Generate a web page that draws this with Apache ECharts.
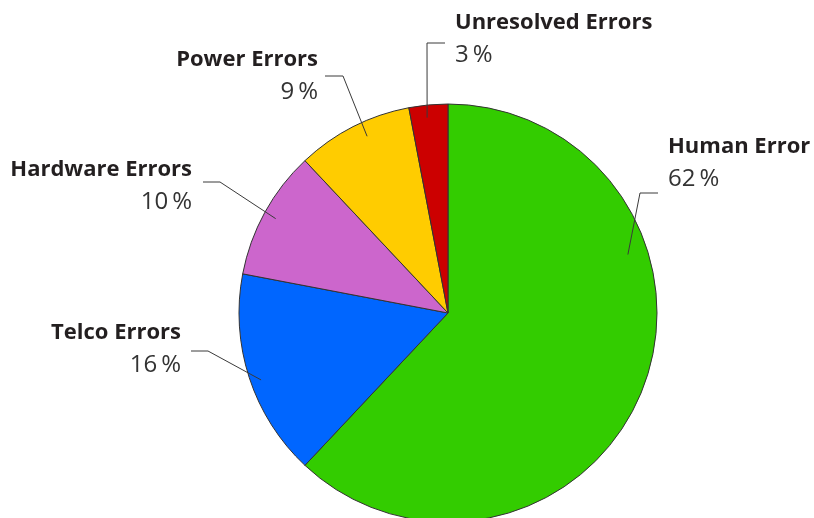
<!DOCTYPE html>
<html>
<head>
<meta charset="utf-8">
<script src="https://cdn.jsdelivr.net/npm/echarts@6/dist/echarts.min.js"></script>
<style>
  html, body { margin: 0; padding: 0; background: #ffffff; }
  #chart { width: 814px; height: 518px; }
</style>
</head>
<body>
<div id="chart"></div>
<script>
// ---- data ----
const categories = ['Human Error', 'Telco Errors', 'Hardware Errors', 'Power Errors', 'Unresolved Errors'];
const values = [62, 16, 10, 9, 3];
const colors = ['#33CC00', '#0066FF', '#CC66CC', '#FFCC00', '#CC0000'];

// ---- layout ----
const CX = 448, CY = 313, R = 209;
// label line start (angle deg clockwise from 12 o'clock, fraction of radius), elbow, end; label anchor
const labelGeo = [
  { a: 72,    f: 0.905, elbow: [640, 193], end: [658, 193], tx: 668, ty: 163, align: 'left' },
  { a: 250.3, f: 0.95,  elbow: [208, 351], end: [191, 351], tx: 181, ty: 349, align: 'right' },
  { a: 298.7, f: 0.94,  elbow: [220, 182], end: [203, 182], tx: 192, ty: 186, align: 'right' },
  { a: 335.4, f: 0.93,  elbow: [343, 76],  end: [325, 76],  tx: 318, ty: 76,  align: 'right' },
  { a: 353.9, f: 0.94,  elbow: [427, 43],  end: [445, 43],  tx: 455, ty: 39,  align: 'left' }
];

const chart = echarts.init(document.getElementById('chart'), null, { renderer: 'canvas' });

const pieData = categories.map((c, i) => ({ name: c, value: values[i], itemStyle: { color: colors[i] } }));

const option = {
  animation: false,
  backgroundColor: '#ffffff',
  series: [{
    type: 'pie',
    z: 2,
    center: [CX, CY],
    radius: R,
    startAngle: 90,
    clockwise: true,
    silent: true,
    data: pieData,
    itemStyle: { borderColor: '#333333', borderWidth: 1 },
    label: { show: false },
    labelLine: { show: false }
  }, {
    // overlay carrying labels and leader lines, drawn above the slices
    type: 'pie',
    z: 5,
    center: [CX, CY],
    radius: R,
    startAngle: 90,
    clockwise: true,
    avoidLabelOverlap: false,
    silent: true,
    data: categories.map((c, i) => ({ name: c, value: values[i] })),
    itemStyle: { color: 'rgba(0,0,0,0)', borderWidth: 0 },
    label: {
      show: true,
      position: 'outside',
      formatter: p => '{n|' + p.name + '}\n{p|' + p.value + '\u2009%}',
      rich: {
        n: { fontFamily: '"Open Sans", sans-serif', fontWeight: 'bold', fontSize: 22, color: '#231F20', lineHeight: 33 },
        p: { fontFamily: '"Open Sans", sans-serif', fontWeight: 'normal', fontSize: 24, color: '#333333', lineHeight: 33 }
      }
    },
    labelLine: {
      show: true,
      showAbove: true,
      length: 20,
      length2: 20,
      lineStyle: { color: '#3a3a3a', width: 1 }
    },
    labelLayout: function (params) {
      const g = labelGeo[params.dataIndex];
      const rad = g.a * Math.PI / 180;
      const sx = CX + g.f * R * Math.sin(rad);
      const sy = CY - g.f * R * Math.cos(rad);
      return {
        x: g.tx,
        y: g.ty,
        align: g.align,
        verticalAlign: 'middle',
        labelLinePoints: [[sx, sy], g.elbow, g.end]
      };
    }
  }]
};
chart.setOption(option);
</script>
</body>
</html>
